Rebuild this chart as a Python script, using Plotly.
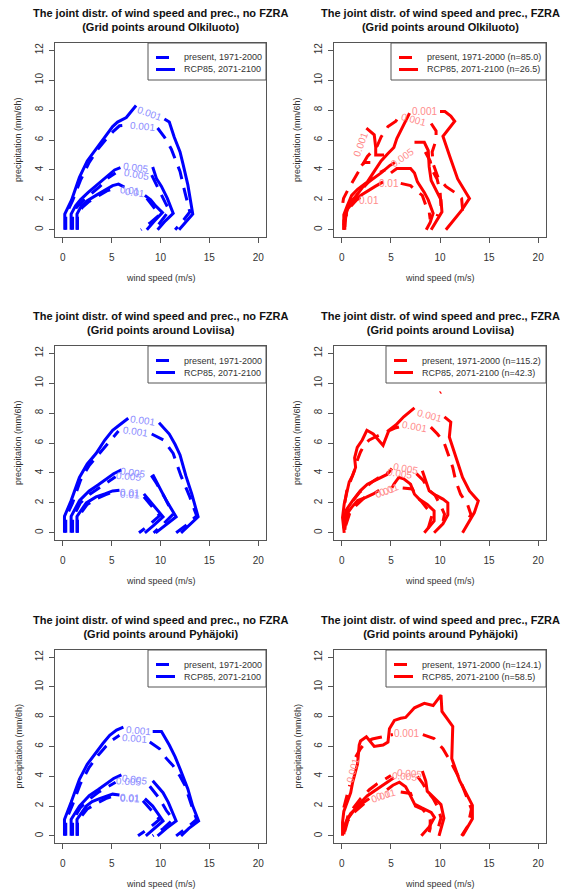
import plotly.graph_objects as go

# ---------------- data ----------------
# Contour polylines (wind speed m/s, precipitation mm/6h); None = break (label gap / new level)

# Panel 1: Olkiluoto, no FZRA
olk_nofz_rcp_x = [0.2, 0.2, 0.9, 1.7, 2.5, 3.4, 4.4, 5.1, 5.6, 6.5, 7.5, None,
                  10.4, 10.9, 11.4, 12.0, 12.3, 12.8, 13.3, 12.6, 11.9, None,
                  0.85, 0.85, 1.3, 1.8, 2.6, 3.5, 4.5, 5.3, 5.9, None,
                  9.2, 9.6, 10.1, 10.7, 11.3, 10.5, 9.7, None,
                  1.45, 1.45, 1.9, 2.5, 3.4, 4.4, 5.1, 5.7, 6.3, None,
                  8.4, 9.0, 9.5, 10.2, 9.4, 8.6]
olk_nofz_rcp_y = [0, 1.05, 2.0, 3.5, 4.6, 5.4, 6.3, 6.9, 7.2, 7.5, 8.3, None,
                  7.4, 7.2, 6.2, 5.2, 4.4, 3.0, 1.05, 0.5, 0, None,
                  0, 1.05, 1.6, 2.0, 2.5, 3.0, 3.6, 4.0, 4.15, None,
                  4.2, 3.4, 2.9, 2.1, 1.1, 0.6, 0, None,
                  0, 1.05, 1.6, 1.95, 2.3, 2.7, 2.95, 3.05, 2.85, None,
                  2.3, 2.0, 1.6, 1.15, 0.6, 0]
olk_nofz_pres_x = [0.3, 0.3, 1.0, 1.8, 2.7, 3.6, 4.5, 5.2, 5.8, 6.6, None,
                   9.7, 10.4, 11.1, 11.6, 12.0, 12.5, 13.0, 12.3, 11.5, None,
                   1.0, 1.0, 1.4, 2.0, 2.9, 3.8, 4.7, 5.4, None,
                   9.1, 9.9, 10.5, 10.9, 10.1, 9.4, None,
                   1.5, 1.5, 2.0, 2.7, 3.6, 4.5, 5.2, 5.6, None,
                   8.6, 9.3, 9.9, 9.0, 8.0]
olk_nofz_pres_y = [0, 1.0, 1.95, 3.3, 4.5, 5.4, 6.1, 6.6, 6.95, 7.0, None,
                   6.8, 6.2, 5.4, 4.6, 3.9, 2.5, 1.2, 0.6, 0, None,
                   0, 1.0, 1.5, 1.9, 2.4, 2.9, 3.5, 3.8, None,
                   3.65, 2.55, 1.8, 1.3, 0.6, 0, None,
                   0, 1.0, 1.5, 1.9, 2.25, 2.6, 2.75, 2.75, None,
                   2.1, 1.5, 1.0, 0.5, 0]

# Panel 2: Olkiluoto, FZRA
olk_fz_rcp_x = [0.2, 0.2, 0.55, 1.0, 1.6, 2.6, 3.3, 4.0, 4.7, 5.3, 5.6, 6.0, 6.5, 6.9, None,
                10.0, 10.5, 11.1, 11.5, 10.3, 10.6, 11.0, 11.8, 12.6, 13.0, 12.2, 11.5, 10.6, None,
                2.5, 3.3, 3.45, 3.45, 4.3, None,
                2.0, 2.3, 2.9, None,
                0.3, 0.3, 0.8, 1.5, 2.3, 3.2, 4.0, 4.9, 5.4, None,
                7.4, 8.4, 8.8, 8.9, 9.1, 9.7, 10.1, 10.2, 9.5, 9.1, None,
                0.2, 0.2, 0.6, 1.2, 1.9, 2.6, 3.4, 4.2, None,
                5.0, 5.6, 7.0, 7.4, 7.7, 8.4, 8.8, 9.3, 9.0, 8.6]
olk_fz_rcp_y = [0, 1.0, 1.6, 2.3, 2.7, 3.2, 3.9, 4.6, 5.1, 5.5, 6.1, 6.6, 7.2, 7.8, None,
                7.9, 7.9, 7.6, 7.25, 6.25, 5.6, 4.9, 3.4, 2.5, 2.1, 1.3, 0.7, 0, None,
                6.8, 6.35, 5.5, 5.0, 5.0, None,
                4.3, 4.5, 4.5, None,
                0, 1.0, 1.8, 2.3, 3.0, 3.4, 3.8, 4.3, 4.5, None,
                5.85, 5.85, 5.3, 4.2, 3.3, 2.5, 2.0, 1.2, 0.4, 0, None,
                0, 0.6, 1.4, 1.9, 2.3, 2.6, 2.9, 3.2, None,
                3.8, 4.1, 4.1, 3.8, 3.2, 2.5, 2.0, 1.1, 0.5, 0]
olk_fz_pres_x = [0.1, 0.17, 0.6, 1.1, 1.6, 1.95, 2.6, 3.1, 3.6, 4.0, 4.7, 5.5, 6.0, None,
                 9.1, 9.6, 9.6, 9.2, 9.3, 9.8, 10.6, 11.5, 12.2, 12.3, 12.1, None,
                 0.2, 0.5, 1.0, 1.6, 2.3, 3.0, 3.8, 4.4, None,
                 8.5, 9.0, 9.2, 9.7, 10.0, 10.1, 9.7, None,
                 0.3, 0.4, 0.8, 1.5, 2.2, None,
                 6.0, 7.0, 7.5, 8.2, 8.55, 8.9, 9.0]
olk_fz_pres_y = [1.8, 2.1, 2.65, 3.2, 3.8, 4.2, 4.9, 5.25, 5.6, 6.2, 6.9, 7.25, 7.8, None,
                 7.1, 6.6, 6.0, 5.2, 4.4, 3.5, 2.9, 2.5, 2.1, 1.4, 0.9, None,
                 0.3, 1.2, 1.8, 2.4, 2.9, 3.4, 3.8, 4.0, None,
                 5.2, 4.6, 4.0, 3.4, 2.6, 1.6, 0.9, None,
                 0.2, 0.9, 1.5, 2.0, 2.3, None,
                 3.1, 2.95, 2.65, 2.3, 1.64, 1.2, 0.7]

# Panel 3: Loviisa, no FZRA
lov_nofz_rcp_x = [0.17, 0.17, 0.85, 1.7, 2.5, 3.4, 4.3, 5.1, 5.8, 6.7, None,
                  9.85, 10.9, 11.5, 12.0, 12.6, 13.2, 13.85, 12.9, 12.1, None,
                  0.85, 0.85, 1.7, 2.7, 3.6, 4.4, 5.2, 6.0, None,
                  9.2, 9.9, 10.6, 11.6, 10.5, 9.5, None,
                  1.45, 1.45, 2.4, 3.4, 4.3, 5.1, 5.8, None,
                  8.3, 9.2, 10.26, 9.3, 8.4]
lov_nofz_rcp_y = [0, 1.1, 2.15, 3.7, 4.6, 5.3, 6.2, 6.85, 7.2, 7.65, None,
                  7.35, 6.6, 5.9, 5.2, 3.8, 2.6, 1.07, 0.5, 0, None,
                  0, 1.1, 2.15, 2.8, 3.2, 3.6, 3.95, 4.2, None,
                  3.9, 3.0, 2.15, 1.07, 0.5, 0, None,
                  0, 1.1, 2.0, 2.4, 2.6, 2.8, 2.85, None,
                  2.6, 1.9, 1.07, 0.5, 0]
lov_nofz_pres_x = [0.3, 0.3, 1.0, 1.8, 2.7, 3.6, 4.5, 5.2, 5.7, None,
                   9.1, 10.3, 11.3, 12.1, 13.0, 13.7, 12.6, 11.6, None,
                   1.0, 1.0, 1.8, 2.8, 3.7, 4.6, 5.4, None,
                   9.06, 9.6, 10.4, 11.3, 10.3, 9.3, None,
                   1.5, 1.5, 2.5, 3.5, 4.4, 5.2, None,
                   8.3, 9.1, 9.9, 8.8, 7.8]
lov_nofz_pres_y = [0, 1.0, 2.0, 3.5, 4.5, 5.2, 5.9, 6.4, 6.8, None,
                   6.6, 6.2, 5.3, 3.8, 2.4, 1.14, 0.5, 0, None,
                   0, 1.0, 2.0, 2.6, 3.0, 3.4, 3.75, None,
                   3.83, 3.3, 2.4, 1.25, 0.6, 0, None,
                   0, 1.0, 1.9, 2.3, 2.55, 2.75, None,
                   2.4, 1.8, 1.14, 0.5, 0]

# Panel 4: Loviisa, FZRA
lov_fz_rcp_x = [0.24, 0.07, 0.24, 0.5, 0.75, 1.1, 1.4, 1.3, 1.57, 2.08, 2.55, 3.2, 4.2, 4.8, 5.5, 6.3, 7.4, None,
                10.45, 11.1, 10.95, 11.6, 12.3, 13.0, 13.9, 13.5, 12.6, 12.3, None,
                10.0, 10.1, None,
                0.2, 0.4, 1.1, 1.9, 2.6, 3.6, 4.6, 5.1, None,
                8.2, 8.55, 8.9, 9.6, 10.3, 10.8, 10.8, 10.3, 9.4, None,
                0.3, 0.5, 1.0, 1.6, 2.45, 3.2, 3.8, None,
                5.1, 5.3, 5.8, 6.3, 7.0, 7.4, 7.9, 8.7, 9.4, 9.4, 8.4]
lov_fz_rcp_y = [0, 1.03, 1.93, 2.6, 3.4, 3.83, 4.37, 5.0, 5.7, 6.2, 6.85, 6.6, 5.84, 6.85, 7.2, 7.75, 8.35, None,
                7.75, 7.4, 6.4, 5.16, 3.7, 2.8, 2.13, 1.35, 0.34, 0, None,
                9.35, 9.4, None,
                0.3, 1.48, 2.15, 2.82, 3.25, 3.6, 3.9, 4.3, None,
                4.15, 3.47, 2.8, 2.5, 2.25, 2.0, 1.2, 0.6, 0, None,
                0.2, 1.25, 1.7, 2.15, 2.37, 2.6, 2.85, None,
                3.0, 3.25, 3.7, 3.6, 3.25, 2.58, 2.24, 1.9, 1.46, 0.8, 0]
lov_fz_pres_x = [0.3, 0.5, 0.9, 1.3, 1.6, 1.9, 2.3, 2.8, 3.4, 4.1, 4.7, 5.4, 6.0, None,
                 9.06, 9.74, 10.4, 10.8, 11.3, 11.6, 12.1, 12.8, 13.15, 12.6, None,
                 0.3, 0.6, 1.2, 1.8, 2.5, 3.3, 4.2, 4.8, None,
                 7.6, 8.3, 8.8, 9.5, 10.0, 10.46, 10.2, None,
                 0.4, 0.8, 1.4, 2.0, 2.7, None,
                 6.2, 7.2, 7.5, 8.1, 8.7, 9.2, 8.8]
lov_fz_pres_y = [2.0, 2.8, 3.5, 4.2, 4.9, 5.4, 5.9, 6.2, 6.4, 6.6, 6.8, 7.0, 7.1, None,
                 7.06, 6.6, 6.05, 5.27, 4.37, 3.47, 2.58, 1.9, 1.23, 0.56, None,
                 0.8, 1.6, 2.2, 2.7, 3.1, 3.5, 3.85, 4.05, None,
                 3.95, 3.5, 2.9, 2.5, 1.9, 1.25, 0.4, None,
                 0.5, 1.3, 1.8, 2.2, 2.6, None,
                 3.0, 2.93, 2.5, 2.1, 1.6, 1.2, 0.3]

# Panel 5: Pyhäjoki, no FZRA
pyh_nofz_rcp_x = [0.17, 0.17, 0.85, 1.7, 2.5, 3.4, 4.1, 4.8, 5.5, 6.2, None,
                  9.2, 10.1, 10.9, 11.5, 12.0, 12.8, 13.3, 13.9, 12.9, 12.1, None,
                  0.85, 0.85, 1.7, 2.7, 3.6, 4.4, 5.2, 6.0, None,
                  9.2, 9.7, 10.26, 10.8, 11.6, 10.6, 9.7, None,
                  1.45, 1.45, 2.4, 3.0, 3.76, 4.5, 5.1, 5.8, None,
                  8.4, 9.2, 10.26, 9.4, 8.5]
pyh_nofz_rcp_y = [0, 1.1, 2.25, 3.8, 4.8, 5.6, 6.2, 6.75, 7.1, 7.3, None,
                  7.0, 7.0, 6.1, 5.3, 4.5, 3.15, 2.0, 1.0, 0.5, 0, None,
                  0, 1.1, 2.0, 2.7, 3.1, 3.5, 3.85, 4.1, None,
                  3.7, 3.3, 2.9, 2.25, 1.0, 0.5, 0, None,
                  0, 1.1, 2.0, 2.3, 2.5, 2.65, 2.8, 2.75, None,
                  2.5, 2.0, 1.0, 0.5, 0]
pyh_nofz_pres_x = [0.3, 0.3, 1.0, 1.8, 2.7, 3.6, 4.4, 5.1, 5.8, None,
                   8.9, 9.9, 10.6, 11.3, 12.0, 12.5, 13.3, 13.7, 12.6, 11.6, None,
                   1.0, 1.0, 1.8, 2.8, 3.7, 4.6, 5.4, None,
                   8.9, 9.9, 10.6, 11.3, 10.3, 9.2, None,
                   1.5, 1.5, 2.5, 3.5, 4.4, 5.1, None,
                   8.2, 9.2, 9.9, 8.8, 7.7]
pyh_nofz_pres_y = [0, 1.0, 2.1, 3.5, 4.6, 5.4, 6.0, 6.45, 6.75, None,
                   6.3, 5.85, 5.2, 4.7, 4.0, 3.4, 1.8, 1.1, 0.5, 0, None,
                   0, 1.0, 1.9, 2.5, 2.95, 3.3, 3.6, None,
                   3.33, 2.5, 1.7, 1.1, 0.5, 0, None,
                   0, 1.0, 1.8, 2.2, 2.5, 2.65, None,
                   2.36, 1.6, 1.1, 0.5, 0]

# Panel 6: Pyhäjoki, FZRA
pyh_fz_rcp_x = [0.07, 0.07, 0.2, 0.6, 0.9, 1.1, 1.6, 1.77, 1.9, 2.5, 3.3, 4.2, 4.7, 4.85, 5.35, 6.0, 6.5, 7.4,
                8.4, 9.3, 10.1, 10.2, 11.3, 11.2, 12.0, 13.3, 13.3, 12.3, None,
                0.2, 0.58, 1.1, 1.6, 2.6, 3.65, 4.5, 5.3, None,
                8.2, 8.55, 8.7, 9.4, 10.1, 10.4, 9.9, None,
                0.2, 0.4, 0.9, 1.9, 2.8, None,
                4.6, 5.2, 5.86, 6.5, 6.9, 7.4, 8.1, 9.1, 9.44, 8.9, 8.1]
pyh_fz_rcp_y = [0, 0.9, 1.64, 2.3, 2.9, 3.6, 4.84, 6.1, 6.37, 6.65, 6.0, 6.1, 6.3, 7.2, 7.75, 7.9, 7.95, 8.6,
                8.9, 8.75, 9.45, 8.35, 7.35, 5.2, 3.7, 2.05, 1.15, 0, None,
                0.3, 1.13, 1.6, 2.03, 2.7, 3.15, 3.5, 3.9, None,
                4.35, 3.67, 3.0, 2.55, 2.1, 1.19, 0, None,
                0.1, 0.9, 1.5, 2.1, 2.5, None,
                3.1, 3.4, 3.6, 3.3, 2.8, 2.14, 1.9, 1.58, 1.24, 0.6, 0]
pyh_fz_pres_x = [0.2, 0.5, 0.8, None,
                 1.4, 1.9, 2.45, 3.1, 3.8, 4.5, 5.2, None,
                 8.25, 9.4, 10.3, 11.1, 12.0, 12.7, 13.2, 12.85, 12.2, None,
                 0.3, 0.6, 1.2, 1.9, 2.8, 3.6, 4.4, 5.0, None,
                 7.7, 8.2, 8.7, 9.3, 9.8, 10.1, 9.8, None,
                 0.3, 0.6, 1.1, 1.8, 2.5, None,
                 6.0, 7.0, 7.5, 8.2, 8.6, 9.0, 9.0, 8.8]
pyh_fz_pres_y = [1.9, 2.6, 3.4, None,
                 5.3, 5.85, 6.3, 6.5, 6.6, 6.7, 6.8, None,
                 6.8, 6.53, 5.85, 4.95, 3.83, 2.7, 1.8, 0.68, 0, None,
                 0.5, 1.3, 1.9, 2.5, 3.1, 3.5, 3.8, 4.05, None,
                 4.0, 3.56, 3.0, 2.5, 1.9, 1.2, 0.5, None,
                 0.3, 1.0, 1.5, 1.9, 2.3, None,
                 2.95, 2.85, 2.0, 1.8, 1.5, 1.1, 0.5, 0]

# Contour labels: (text, wind, prec, angle)
olk_nofz_labels = [("0.001", 8.9, 7.8, 20), ("0.001", 8.2, 6.9, 5), ("0.005", 7.4, 4.15, 8),
                   ("0.005", 7.5, 3.7, 10), ("0.01", 6.85, 2.65, 5), ("0.01", 7.35, 2.5, 8)]
olk_fz_labels = [("0.001", 8.4, 7.9, 0), ("0.001", 7.3, 7.35, 15), ("0.001", 1.9, 5.7, -70),
                 ("0.005", 6.2, 4.8, -35), ("0.01", 4.8, 3.1, 0), ("0.01", 2.8, 1.95, 0)]
lov_nofz_labels = [("0.001", 8.2, 7.5, 8), ("0.001", 7.45, 6.8, 8), ("0.005", 7.1, 4.03, 8),
                   ("0.005", 6.75, 3.76, 5), ("0.01", 6.85, 2.69, 3), ("0.01", 6.9, 2.55, 3)]
lov_fz_labels = [("0.001", 8.9, 7.86, 15), ("0.001", 7.4, 7.1, 10), ("0.005", 6.5, 4.28, 10),
                 ("0.005", 5.9, 3.95, 8), ("0.01", 4.4, 2.75, -20), ("0.01", 4.85, 2.9, -20)]
pyh_nofz_labels = [("0.001", 7.7, 7.1, 5), ("0.001", 7.35, 6.53, 5), ("0.005", 7.35, 3.8, 8),
                   ("0.005", 6.75, 3.67, 3), ("0.01", 6.85, 2.6, 3), ("0.01", 6.9, 2.5, 3)]
pyh_fz_labels = [("0.001", 6.55, 6.85, 0), ("0.001", 1.1, 4.4, -75), ("0.005", 6.9, 4.2, 5),
                 ("0.005", 6.4, 3.98, 5), ("0.01", 3.95, 2.66, -20), ("0.01", 4.45, 2.8, -15)]

sites = ["Olkiluoto", "Loviisa", "Pyhäjoki"]
n_present = [85.0, 115.2, 124.1]
n_rcp = [26.5, 42.3, 58.5]
x_ticks = [0, 5, 10, 15, 20]
y_ticks = [0, 2, 4, 6, 8, 10, 12]

# ---------------- figure ----------------
W, H = 562, 894
FONT = "Liberation Sans, Arial, Helvetica, sans-serif"
BLUE, RED = "#0000ff", "#ff0000"
LBLUE, LRED = "#8c8cff", "#ff8c8c"
DASH = "13px,9px"
AXC = "#555"


def fx(p):
    return p / W


def fy(p):
    return 1 - p / H


col_px = [(55, 266), (334, 546)]
row_px = [(43, 237), (346, 540), (650, 843)]
legend_w = [[118, 155], [118, 160], [118, 160]]

panels = [
    (0, 0, olk_nofz_pres_x, olk_nofz_pres_y, olk_nofz_rcp_x, olk_nofz_rcp_y, olk_nofz_labels),
    (0, 1, olk_fz_pres_x, olk_fz_pres_y, olk_fz_rcp_x, olk_fz_rcp_y, olk_fz_labels),
    (1, 0, lov_nofz_pres_x, lov_nofz_pres_y, lov_nofz_rcp_x, lov_nofz_rcp_y, lov_nofz_labels),
    (1, 1, lov_fz_pres_x, lov_fz_pres_y, lov_fz_rcp_x, lov_fz_rcp_y, lov_fz_labels),
    (2, 0, pyh_nofz_pres_x, pyh_nofz_pres_y, pyh_nofz_rcp_x, pyh_nofz_rcp_y, pyh_nofz_labels),
    (2, 1, pyh_fz_pres_x, pyh_fz_pres_y, pyh_fz_rcp_x, pyh_fz_rcp_y, pyh_fz_labels),
]

fig = go.Figure()
layout = dict(width=W, height=H, margin=dict(l=0, r=0, t=0, b=0), showlegend=False,
              paper_bgcolor="white", plot_bgcolor="white", font=dict(family=FONT, color="#222"),
              annotations=[], shapes=[])

for i, (r, c, px, py, rx, ry, labels) in enumerate(panels):
    k = i + 1
    sfx = "" if k == 1 else str(k)
    xa, ya = "x" + sfx, "y" + sfx
    color = RED if c == 1 else BLUE
    lcolor = LRED if c == 1 else LBLUE
    if c == 1:
        nm_p = f"present, 1971-2000 (n={n_present[r]:.1f})"
        nm_r = f"RCP85, 2071-2100 (n={n_rcp[r]:.1f})"
    else:
        nm_p = "present, 1971-2000"
        nm_r = "RCP85, 2071-2100"
    fig.add_trace(go.Scatter(x=px, y=py, mode="lines", name=nm_p, xaxis=xa, yaxis=ya,
                             line=dict(color=color, width=3, dash=DASH), hoverinfo="skip"))
    fig.add_trace(go.Scatter(x=rx, y=ry, mode="lines", name=nm_r, xaxis=xa, yaxis=ya,
                             line=dict(color=color, width=3), hoverinfo="skip"))

    x0, x1 = col_px[c]
    y0, y1 = row_px[r]
    axcommon = dict(showline=True, mirror=True, linecolor=AXC, linewidth=1, showgrid=False,
                    zeroline=False, ticks="outside", ticklen=5, tickcolor=AXC,
                    tickfont=dict(size=10, color="#333", family=FONT))
    layout["xaxis" + sfx] = dict(domain=[fx(x0), fx(x1)], range=[-0.8, 20.8], tickvals=x_ticks,
                                 anchor=ya, ticklabelstandoff=6, **axcommon)
    layout["yaxis" + sfx] = dict(domain=[fy(y1), fy(y0)], range=[-0.48, 12.48], tickvals=y_ticks,
                                 anchor=xa, tickangle=-90, ticklabelstandoff=2, **axcommon)

    # legend box (R-style, top-right corner of the plot box)
    lw = legend_w[r][c]
    lx0 = x1 - lw
    layout["shapes"].append(dict(type="rect", xref="paper", yref="paper",
                                 x0=fx(lx0), x1=fx(x1), y0=fy(y0 + 37), y1=fy(y0),
                                 line=dict(color=AXC, width=1), fillcolor="white", layer="above"))
    for j, (nm, dash) in enumerate([(nm_p, DASH), (nm_r, "solid")]):
        yy = y0 + 14.5 + 12 * j
        layout["shapes"].append(dict(type="line", xref="paper", yref="paper",
                                     x0=fx(lx0 + 8), x1=fx(lx0 + 27), y0=fy(yy), y1=fy(yy),
                                     line=dict(color=color, width=3, dash=dash), layer="above"))
        layout["annotations"].append(dict(x=fx(lx0 + 34), y=fy(yy), xref="paper", yref="paper",
                                          text=nm, showarrow=False, xanchor="left", yanchor="middle",
                                          font=dict(size=9, color="#333", family=FONT)))

    # contour labels
    for (t, lx, ly, ang) in labels:
        layout["annotations"].append(dict(x=lx, y=ly, xref=xa, yref=ya, text=t, showarrow=False,
                                          textangle=ang, font=dict(size=10, color=lcolor, family=FONT)))
    # panel title
    kind = "FZRA" if c == 1 else "no FZRA"
    layout["annotations"].append(dict(
        x=fx((x0 + x1) / 2), y=fy(y0 - 23), xref="paper", yref="paper",
        text=f"<b>The joint distr. of wind speed and prec., {kind}</b><br><b>(Grid points around {sites[r]})</b>",
        showarrow=False, xanchor="center", yanchor="middle",
        font=dict(size=11, color="#111", family=FONT)))
    # axis titles
    layout["annotations"].append(dict(
        x=fx((x0 + x1) / 2), y=fy(y1 + 41), xref="paper", yref="paper",
        text="wind speed (m/s)", showarrow=False, xanchor="center", yanchor="middle",
        font=dict(size=9, color="#333", family=FONT)))
    layout["annotations"].append(dict(
        x=fx(x0 - 37), y=fy((y0 + y1) / 2), xref="paper", yref="paper",
        text="precipitation (mm/6h)", showarrow=False, textangle=-90, xanchor="center", yanchor="middle",
        font=dict(size=9, color="#333", family=FONT)))

fig.update_layout(**layout)
# remove the browser's default 8px body margin so the 562x894 figure fills the window exactly
fig.write_html("out.html", config={"displayModeBar": False},
               post_script="document.body.style.margin='0';document.body.style.overflow='hidden';")
